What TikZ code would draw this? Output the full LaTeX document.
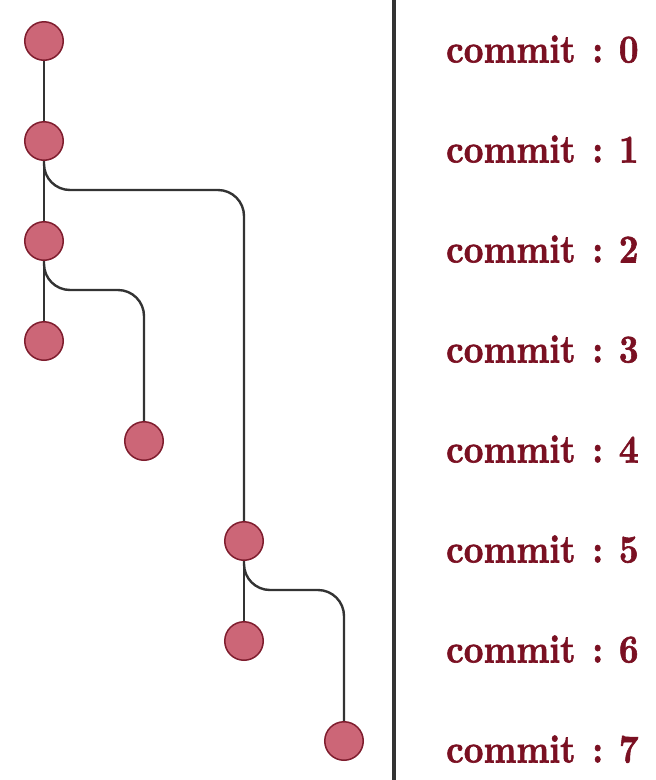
\documentclass[tikz,border=0pt]{standalone}
\usepackage{fontspec}
\newfontfamily\cmtfont{lmroman10-bold.otf}[FakeBold=1.6]
\usetikzlibrary{backgrounds}
\definecolor{nodefill}{HTML}{CC6677}
\definecolor{nodedraw}{HTML}{7F1D2E}
\definecolor{txtred}{HTML}{7A1022}
\definecolor{linegray}{HTML}{333333}
\tikzset{
  commitnode/.style={circle, fill=nodefill, draw=nodedraw, line width=1.5pt, minimum size=38.5pt, inner sep=0pt},
  branchline/.style={draw=linegray, line width=2.4pt, rounded corners=26pt},
  commitlabel/.style={anchor=base west, text=txtred, inner sep=0pt},
  separator/.style={draw=linegray, line width=4.5pt}
}
\newcommand{\commitlbl}[1]{\scalebox{1.01}[1.16]{\fontsize{34}{36}\cmtfont commit\hspace{16.5pt}:\hspace{15.5pt}#1}}
\begin{document}
\begin{tikzpicture}[x=1pt,y=-1pt]
\useasboundingbox (0,0) rectangle (656,780);
\node[commitnode] (c0) at (44,41) {};
\node[commitnode] (c1) at (44,141) {};
\node[commitnode] (c2) at (44,241) {};
\node[commitnode] (c3) at (44,341) {};
\node[commitnode] (c4) at (144,441) {};
\node[commitnode] (c5) at (244,541) {};
\node[commitnode] (c6) at (244,641) {};
\node[commitnode] (c7) at (344,741) {};
\begin{pgfonlayer}{background}
\draw[branchline] (c0) -- (c1);
\draw[branchline] (c1) -- (c2);
\draw[branchline] (c2) -- (c3);
\draw[branchline] (c5) -- (c6);
\draw[branchline] (c1.center) -- ([yshift=-49pt]c1.center) -| (c5.center);
\draw[branchline] (c2.center) -- ([yshift=-49pt]c2.center) -| (c4.center);
\draw[branchline] (c5.center) -- ([yshift=-49pt]c5.center) -| (c7.center);
\end{pgfonlayer}
\coordinate (septop) at (394,0);
\coordinate (sepbot) at (394,780);
\draw[separator] (septop) -- (sepbot);
\foreach \i in {0,...,7}{
  \node[commitlabel] (t\i) at (446,{62.5+100*\i}) {\commitlbl{\i}};
}
\end{tikzpicture}
\end{document}
